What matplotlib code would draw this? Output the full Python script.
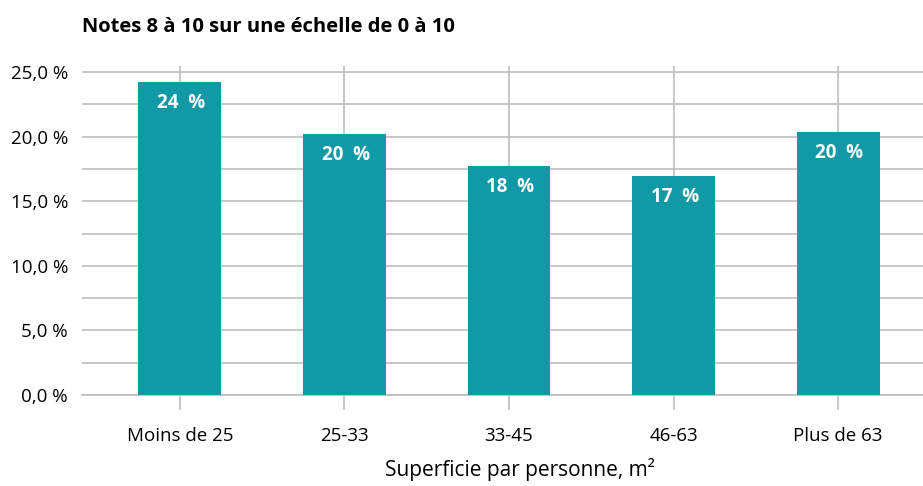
import matplotlib
matplotlib.use("Agg")
import matplotlib.pyplot as plt
from matplotlib.ticker import FuncFormatter, MultipleLocator

plt.rcParams["font.family"] = ["Open Sans", "DejaVu Sans"]

# data
categories = ["Moins de 25", "25-33", "33-45", "46-63", "Plus de 63"]
values = [24.2, 20.2, 17.7, 16.95, 20.35]
labels = ["24  %", "20  %", "18  %", "17  %", "20  %"]

bar_color = "#1199a5"
grid_color = "#bdbdbd"

fig = plt.figure(figsize=(9.23, 4.86), dpi=100)
ax = fig.add_axes([0.0888, 0.187, 0.9112, 0.677])

x = list(range(len(categories)))
bars = ax.bar(x, values, width=0.504, color=bar_color, zorder=3)

# value labels inside bars
for rect, lab in zip(bars, labels):
    ax.annotate(lab, (rect.get_x() + rect.get_width() / 2, rect.get_height()),
                xytext=(1, -15), textcoords="offset points", ha="center", va="center",
                color="white", fontsize=13.5, fontweight="bold", zorder=4)

ax.set_xlim(-0.595, 4.516)
ax.set_ylim(0, 25.45)
ax.set_xticks(x)
ax.set_xticklabels(categories, fontsize=13.5)
ax.yaxis.set_major_locator(MultipleLocator(5))
ax.yaxis.set_minor_locator(MultipleLocator(2.5))
ax.yaxis.set_major_formatter(FuncFormatter(lambda v, p: f"{v:.1f} %".replace(".", ",")))
ax.tick_params(axis="y", which="both", length=0, labelsize=13.5, pad=10)
ax.tick_params(axis="x", length=11, width=1.2, color=grid_color, pad=12)

# gridlines
ax.grid(axis="y", which="both", color=grid_color, linewidth=1.2, zorder=0)
ax.grid(axis="x", color=grid_color, linewidth=1.2, zorder=0)
for s in ["top", "right", "left"]:
    ax.spines[s].set_visible(False)
ax.spines["bottom"].set_color(grid_color)
ax.spines["bottom"].set_linewidth(1.2)

xl = ax.set_xlabel("Superficie par personne, m²", fontsize=15)
xl.set_va("center")
ax.xaxis.set_label_coords(0.521, -0.225)
fig.text(0.0888, 0.945, "Notes 8 à 10 sur une échelle de 0 à 10", fontsize=14.5,
         fontweight="bold", ha="left", va="center")

fig.savefig("out.png", dpi=100)
